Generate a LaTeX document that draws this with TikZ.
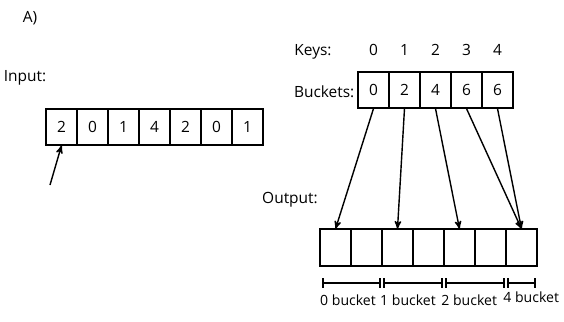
\documentclass[tikz,border=0pt]{standalone}
\usepackage{fontspec}
\setmainfont{Open Sans}
\usetikzlibrary{arrows,positioning}

\begin{document}
\begin{tikzpicture}[
  cell/.style={rectangle, draw, thick, minimum width=0.775cm, minimum height=0.9cm, inner sep=0pt, font=\fontsize{11}{13}\selectfont},
  lbl/.style={font=\fontsize{11}{13}\selectfont, inner sep=1pt},
  arrow/.style={-stealth', line width=1pt},
  span/.style={|-|, thick, shorten <=1pt, shorten >=1pt}
]
\useasboundingbox (0,0) rectangle (14.1,-8.05);

% Title and input
\node[lbl] (title) at (0.75,-0.45) {A)};
\node[lbl] (inlbl) at (0.625,-1.95) {Input:};
\foreach \v [count=\i from 0] in {2,0,1,4,2,0,1}
  \node[cell] (in\i) at (1.5375+0.775*\i,-3.175) {\v};
\draw[very thick] (in0.north west) rectangle (in6.south east);
\coordinate (intail) at (1.25,-4.625);
\draw[arrow] (intail) -- (in0.south);

% Keys and buckets
\foreach \v [count=\i from 0] in {0,2,4,6,6}
  \node[cell] (b\i) at (9.3375+0.775*\i,-2.25) {\v};
\draw[very thick] (b0.north west) rectangle (b4.south east);
\foreach \i in {0,...,4}
  \node[lbl, above=0.35cm of b\i] (k\i) {\i};
\node[lbl] (keys) at (7.825,-1.3) {Keys:};
\node[lbl, anchor=east] (buckets) at (8.9,-2.3) {Buckets:};

% Output
\node[lbl] (outlbl) at (7.25,-5.0) {Output:};
\foreach \i in {0,...,6}
  \node[cell] (out\i) at (8.3875+0.775*\i,-6.1875) {};
\draw[very thick] (out0.north west) rectangle (out6.south east);

\draw[arrow] (b0.south) -- (out0.north);
\draw[arrow] (b1.south) -- (out2.north);
\draw[arrow] (b2.south) -- (out4.north);
\draw[arrow] (b3.south) -- (out6.north);
\draw[arrow] (b4.south) -- (out6.north);

% Bucket ranges
\coordinate (s0) at (8.025,-7.075);
\coordinate (s1) at (9.55,-7.075);
\coordinate (s2) at (11.1,-7.075);
\coordinate (s3) at (12.65,-7.075);
\coordinate (s4) at (13.425,-7.075);
\draw[span] (s0) -- (s1);
\draw[span] (s1) -- (s2);
\draw[span] (s2) -- (s3);
\draw[span] (s3) -- (s4);

\node[lbl, font=\fontsize{10}{12}\selectfont] (r0) at (8.7,-7.5) {0 bucket};
\node[lbl, font=\fontsize{10}{12}\selectfont] (r1) at (10.2,-7.5) {1 bucket};
\node[lbl, font=\fontsize{10}{12}\selectfont] (r2) at (11.73,-7.5) {2 bucket};
\node[lbl, font=\fontsize{10}{12}\selectfont] (r3) at (13.28,-7.43) {4 bucket};
\end{tikzpicture}
\end{document}
